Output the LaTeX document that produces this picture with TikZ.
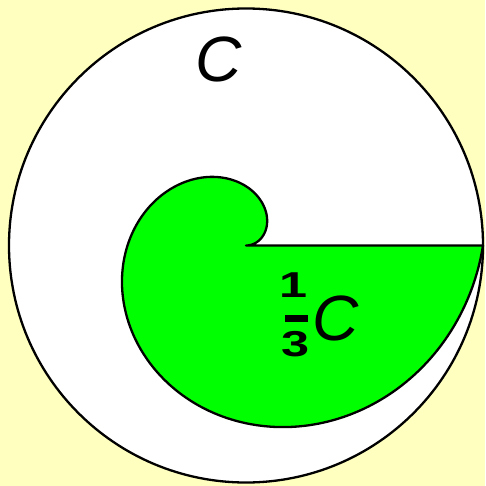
\documentclass[tikz,border=0pt]{standalone}
\usepackage{fontspec}
\newfontfamily\arialfont{Liberation Sans}
\definecolor{bgyellow}{RGB}{255,255,192}
\definecolor{spiralgreen}{RGB}{0,255,0}
\newcommand{\widedigit}[1]{\scalebox{1.4}[1]{#1}}
\begin{document}
\begin{tikzpicture}[x=1pt,y=-1pt,
  outline/.style={draw=black, line width=2.3pt},
  bigletter/.style={inner sep=0pt, font=\arialfont\fontsize{64}{64}\selectfont\itshape},
  digit/.style={inner sep=0pt, font=\arialfont\bfseries\fontsize{36}{36}\selectfont}]
  \fill[bgyellow] (0,0) rectangle (485,486);
  \useasboundingbox (0,0) rectangle (485,486);
  \coordinate (o) at (246,245.5);
  \node[circle, outline, fill=white, minimum size=474pt, inner sep=0pt] (disk) at (o) {};
  \draw[outline, fill=spiralgreen, line join=round]
    plot[domain=0:360, samples=240, variable=\t]
      ({246+0.658333*\t*cos(\t)}, {245.5-0.658333*\t*sin(\t)}) -- cycle;
  \node[bigletter] (ctop) at (219,59) {C};
  \node[digit] (one) at (293.5,285) {\widedigit{1}};
  \node[digit] (three) at (296,344) {\widedigit{3}};
  \fill[black] (285,315) rectangle (308,321.5);
  \node[bigletter] (cfrac) at (336,318.5) {C};
\end{tikzpicture}
\end{document}
